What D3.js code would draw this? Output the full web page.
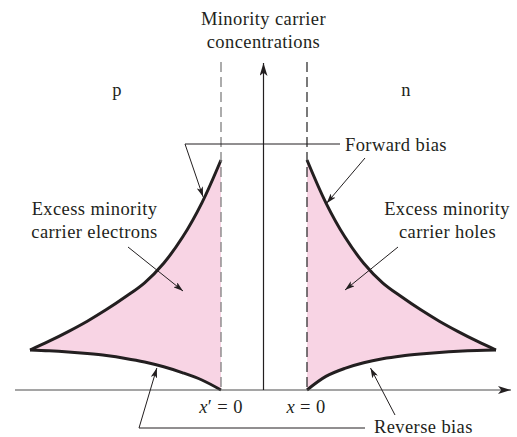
<!DOCTYPE html>
<html>
  <head>
    <meta charset="utf-8">
    <script src="https://cdn.jsdelivr.net/npm/d3@7"></script>
    <title>Minority carrier concentrations</title>
    <style>
      body { margin: 0; background: #fff; }
      text { font-family: "Liberation Serif", "Times New Roman", serif; font-size: 18.5px; letter-spacing: 0.4px; fill: #231f20; }
    </style>
  </head>
  <body>
  <script>
    // distance from the depletion edge (same grid for both sides)
    var distance = [0, 0.5, 1, 1.5, 2, 2.5, 3, 3.5, 4, 4.5, 5];
    // p side (electrons), concentration in units of the equilibrium value
    var pForward = [5.75, 4.68, 3.83, 3.17, 2.68, 2.33, 2.01, 1.72, 1.46, 1.22, 1.0];
    var pReverse = [0, 0.25, 0.43, 0.58, 0.7, 0.79, 0.86, 0.91, 0.95, 0.98, 1.0];
    // n side (holes)
    var nForward = [5.75, 4.68, 3.83, 3.17, 2.68, 2.33, 2.01, 1.72, 1.46, 1.22, 1.0];
    var nReverse = [0, 0.34, 0.54, 0.68, 0.78, 0.85, 0.9, 0.94, 0.97, 0.99, 1.0];

    var width = 517;
    var height = 437;

    var svg = d3.select("body").append("svg")
              .attr("width", width)
              .attr("height", height);

    var y = d3.scaleLinear().domain([0, 5.75]).range([390, 160]);
    var xP = d3.scaleLinear().domain([0, 5]).range([221, 30]);
    var xN = d3.scaleLinear().domain([0, 5]).range([307, 496]);
    var smooth = d3.curveCatmullRom.alpha(0.5);

    var defs = svg.append("defs");
    function marker(id, len, half){
      defs.append("marker")
          .attr("id", id)
          .attr("viewBox", "0 " + (-half) + " " + len + " " + (2*half))
          .attr("refX", len)
          .attr("refY", 0)
          .attr("markerUnits", "userSpaceOnUse")
          .attr("markerWidth", len)
          .attr("markerHeight", 2*half)
          .attr("orient", "auto")
        .append("path")
          .attr("d", "M0," + (-half) + "L" + len + ",0L0," + half + "L" + (len*0.25) + ",0Z")
          .style("fill", "#231f20");
    }
    marker("axisHead", 13, 4);
    marker("noteHead", 10, 3.2);

    function side(x, fwd, rev){
      var pts = distance.map(function(d, i){ return {d: d, f: fwd[i], r: rev[i]}; });
      var area = d3.area()
                   .x(function(s){ return x(s.d); })
                   .y0(function(s){ return y(s.r); })
                   .y1(function(s){ return y(s.f); })
                   .curve(smooth);
      svg.append("path").attr("d", area(pts)).style("fill", "#f8d4e4");
      var upper = d3.line().x(function(s){ return x(s.d); }).y(function(s){ return y(s.f); }).curve(smooth);
      var lower = d3.line().x(function(s){ return x(s.d); }).y(function(s){ return y(s.r); }).curve(smooth);
      [upper, lower].forEach(function(l){
        svg.append("path").attr("d", l(pts))
           .style("fill", "none")
           .style("stroke", "#231f20")
           .style("stroke-width", 3)
           .style("stroke-linejoin", "round");
      });
    }
    side(xP, pForward, pReverse);
    side(xN, nForward, nReverse);

    // depletion edges
    svg.append("line").attr("x1", xP(0)).attr("x2", xP(0)).attr("y1", 62).attr("y2", y(0))
       .style("stroke", "#808080").style("stroke-width", 1.3).style("stroke-dasharray", "10,5");
    svg.append("line").attr("x1", xN(0)).attr("x2", xN(0)).attr("y1", 62).attr("y2", y(0))
       .style("stroke", "#333").style("stroke-width", 1.3).style("stroke-dasharray", "10,5");

    // axes
    svg.append("line").attr("x1", 15).attr("x2", 511).attr("y1", y(0)).attr("y2", y(0))
       .style("stroke", "#4d4d4d").style("stroke-width", 1.2).attr("marker-end", "url(#axisHead)");
    svg.append("line").attr("x1", 263.5).attr("x2", 263.5).attr("y1", y(0)).attr("y2", 63)
       .style("stroke", "#231f20").style("stroke-width", 1.2).attr("marker-end", "url(#axisHead)");

    // leader lines
    function lead(points, head){
      var p = svg.append("path").attr("d", d3.line()(points))
                 .style("fill", "none").style("stroke", "#231f20").style("stroke-width", 1);
      if(head){ p.attr("marker-end", "url(#noteHead)"); }
    }
    lead([[340, 144], [185, 144], [xP(0.47), y(4.83)]], true);
    lead([[365, 158], [xN(0.52), y(4.67)]], true);
    lead([[128, 247], [183, 291]], true);
    lead([[398, 247], [345, 290]], true);
    lead([[365, 428], [139, 428], [xP(1.68), y(0.55)]], true);
    lead([[395, 415], [xN(1.68), y(0.55)]], true);

    // text
    function label(t, x0, y0, anchor){
      return svg.append("text").attr("x", x0).attr("y", y0)
                .attr("text-anchor", anchor || "middle").text(t);
    }
    label("Minority carrier", 263.5, 25);
    label("concentrations", 263.5, 48);
    label("p", 117, 96);
    label("n", 406, 96);
    label("Forward bias", 345, 151, "start");
    label("Excess minority", 94.5, 215);
    label("carrier electrons", 94.5, 238);
    label("Excess minority", 447, 215);
    label("carrier holes", 447.5, 238);
    label("Reverse bias", 374, 433, "start");

    var t1 = svg.append("text").attr("x", xP(0)).attr("y", 413).attr("text-anchor", "middle");
    t1.append("tspan").style("font-style", "italic").text("x");
    t1.append("tspan").text("′ = 0");
    var t2 = svg.append("text").attr("x", xN(0) - 1).attr("y", 413).attr("text-anchor", "middle");
    t2.append("tspan").style("font-style", "italic").text("x");
    t2.append("tspan").text(" = 0");
  </script>
</body>
</html>
